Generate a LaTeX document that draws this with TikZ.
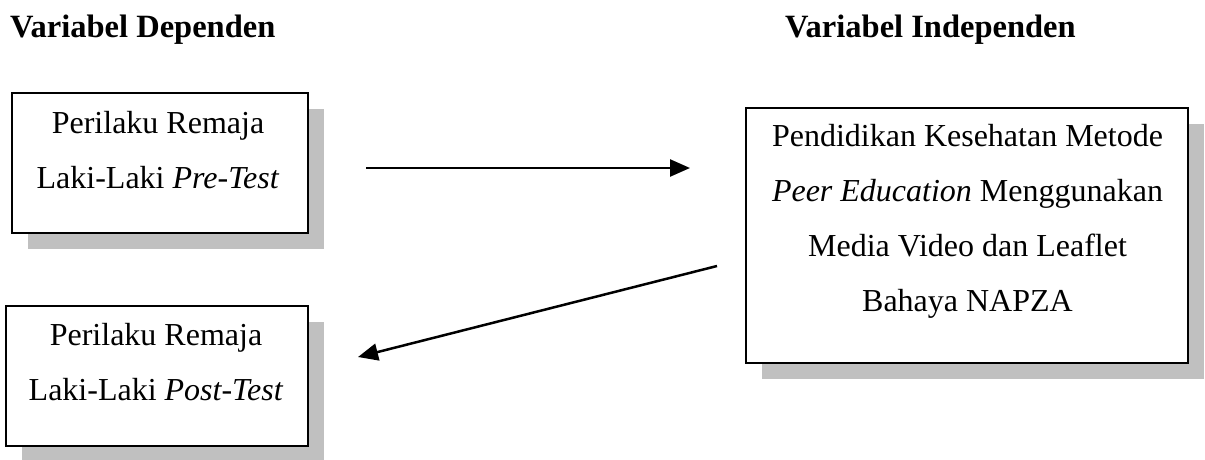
\documentclass[tikz,border=0pt]{standalone}
\usepackage{fontspec}
\setmainfont{Liberation Serif}
\usetikzlibrary{arrows.meta,shadows}
\definecolor{shadowgray}{HTML}{C0C0C0}
\tikzset{
  box/.style={draw=black, line width=2pt, fill=white, inner sep=0pt,
    drop shadow={shadow xshift=15.5pt, shadow yshift=-15.5pt, fill=shadowgray, opacity=1}},
  txt/.style={font=\fontsize{32}{55}\selectfont, align=center, inner sep=0pt, anchor=base},
  ttl/.style={font=\fontsize{32.5}{38}\selectfont\bfseries, inner sep=0pt, anchor=base west},
  arr/.style={line width=2.5pt, -{Triangle[length=20pt,width=17pt]}}
}
\begin{document}
\begin{tikzpicture}[x=1pt,y=-1pt]
\useasboundingbox (0,0) rectangle (1205,459);
\node[ttl] (t1) at (10,37) {Variabel Dependen};
\node[ttl] (t2) at (785,37) {Variabel Independen};
\node[box, minimum width=296pt, minimum height=140pt] (b1) at (160,163) {};
\node[box, minimum width=302pt, minimum height=140pt] (b2) at (157,376) {};
\node[box, minimum width=442pt, minimum height=255pt] (b3) at (967,235.5) {};
\node[txt] (x1) at (158,188) {Perilaku Remaja\\Laki-Laki \textit{Pre-Test}};
\node[txt] (x2) at (156,400) {Perilaku Remaja\\Laki-Laki \textit{Post-Test}};
\node[txt] (x3) at (967.5,311) {Pendidikan Kesehatan Metode\\\textit{Peer Education} Menggunakan\\Media Video dan Leaflet\\Bahaya NAPZA};
\coordinate (a1s) at (366,168);
\coordinate (a1e) at (690,168);
\coordinate (a2s) at (717,266);
\coordinate (a2e) at (358,357);
\draw[arr] (a1s) -- (a1e);
\draw[arr] (a2s) -- (a2e);
\end{tikzpicture}
\end{document}
